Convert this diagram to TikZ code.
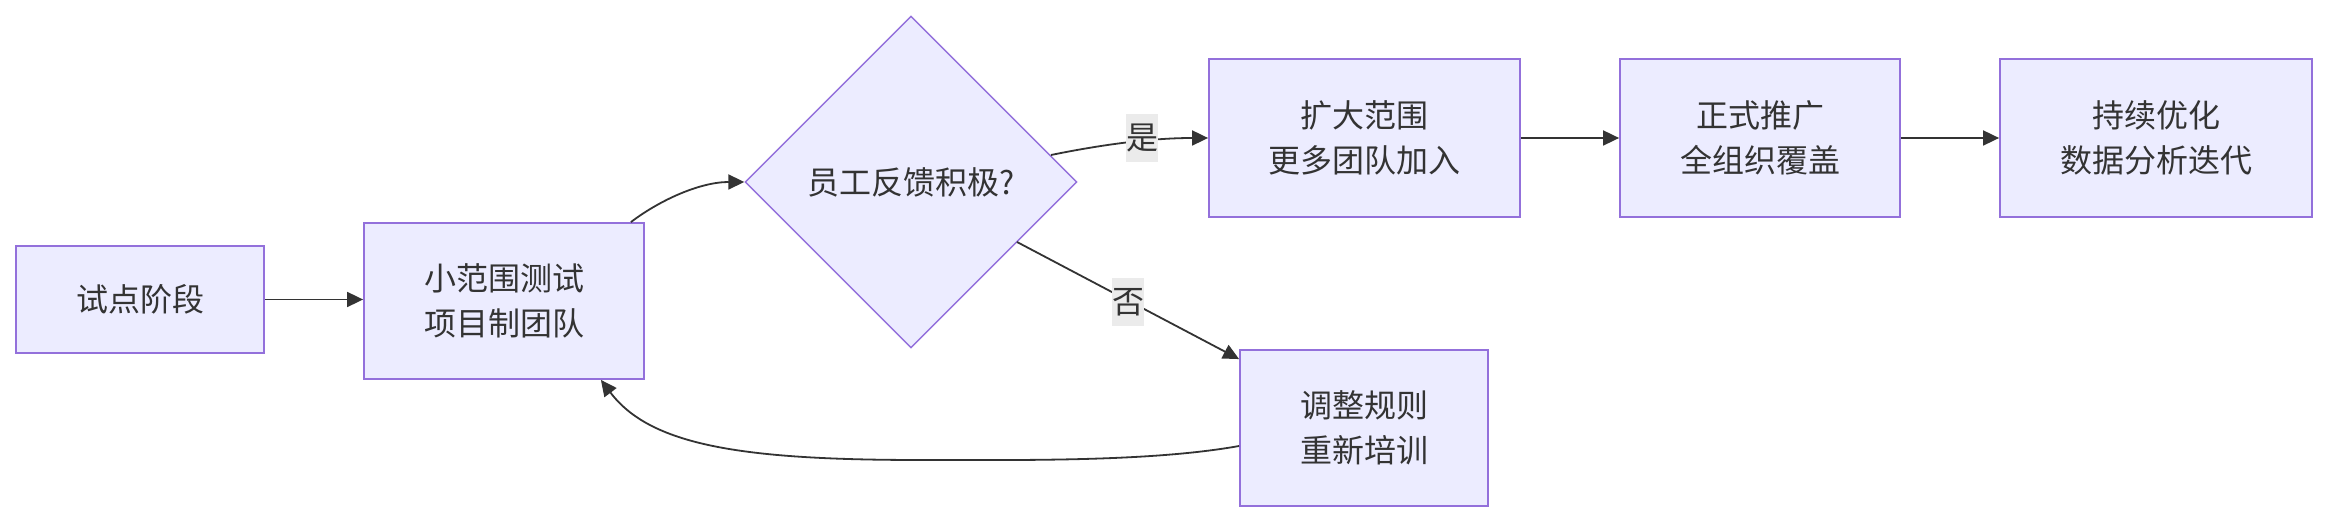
\documentclass[tikz,border=0pt]{standalone}
\usepackage{fontspec}
\setmainfont{Noto Sans CJK SC}
\usetikzlibrary{shapes.geometric,arrows.meta}
\definecolor{nodefill}{HTML}{ECECFF}
\definecolor{nodeline}{HTML}{9370DB}
\definecolor{txt}{HTML}{333333}
\definecolor{lblbg}{HTML}{EBEBEB}
\begin{document}
\begin{tikzpicture}[x=0.5pt,y=-0.5pt,
  lblfont/.style={font=\fontsize{16pt}{22.5pt}\selectfont},
  box/.style={rectangle,draw=nodeline,fill=nodefill,line width=0.9pt,text=txt,align=center,lblfont,inner sep=0pt},
  decision/.style={diamond,draw=nodeline,fill=nodefill,line width=0.7pt,text=txt,lblfont,inner sep=0pt,minimum width=166pt,minimum height=166pt},
  link/.style={draw=txt,line width=0.9pt,-{Triangle[length=8pt,width=7.5pt]}},
  lbl/.style={fill=lblbg,text=txt,lblfont,inner sep=0pt,minimum width=16pt,minimum height=24pt}]
\useasboundingbox (0,0) rectangle (2328,522);

\node[box,minimum width=124pt,minimum height=53.5pt] (A) at (140,299.5) {试点阶段};
\node[box,minimum width=140pt,minimum height=78pt] (B) at (504,301) {小范围测试\\项目制团队};
\node[decision] (Q) at (911,182) {员工反馈积极?};
\node[box,minimum width=155.5pt,minimum height=79pt] (C) at (1364.5,138) {扩大范围\\更多团队加入};
\node[box,minimum width=140pt,minimum height=79pt] (D) at (1760,138) {正式推广\\全组织覆盖};
\node[box,minimum width=156pt,minimum height=79pt] (E) at (2156,138) {持续优化\\数据分析迭代};
\node[box,minimum width=124pt,minimum height=78pt] (F) at (1364,428) {调整规则\\重新培训};

\coordinate (qyes) at (1051,155);
\coordinate (qno) at (1017,242);

\draw[link] (A.east) -- (A.east -| B.west);
\draw[link] ([xshift=-7pt]B.north east) .. controls (660,200) and (700,182) .. (Q.west);
\draw[link] (qyes) .. controls (1100,145) and (1150,138) .. (C.west);
\draw[link] (qno) -- ([yshift=-5pt]F.north west);
\draw[link] (C.east) -- (D.west);
\draw[link] (D.east) -- (E.west);
\draw[link] ([yshift=-9pt]F.west) .. controls (1150,462) and (1020,460) .. (920,460)
  .. controls (740,460) and (650,445) .. ([xshift=-22pt]B.south east);

\node[lbl] (ly) at (1142,138) {是};
\node[lbl] (ln) at (1128,302) {否};
\end{tikzpicture}
\end{document}
